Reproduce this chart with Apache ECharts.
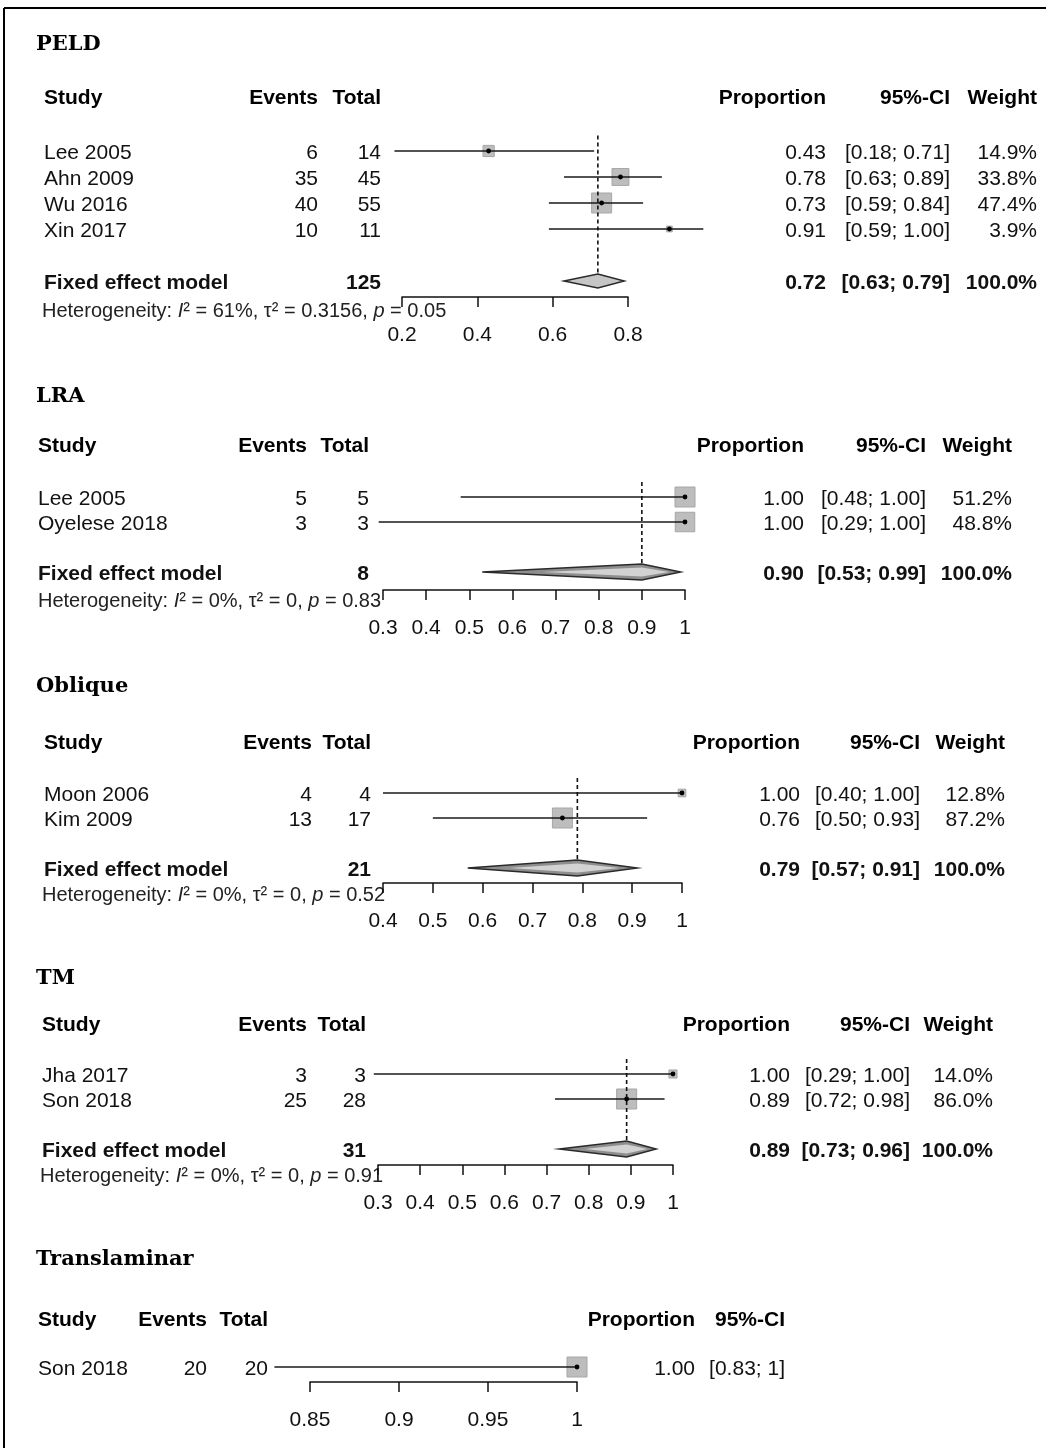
<!DOCTYPE html>
<html>
<head>
<meta charset="utf-8">
<title>Forest plots</title>
<script src="https://cdn.jsdelivr.net/npm/echarts@6/dist/echarts.min.js"></script>
<style>
  html, body { margin: 0; padding: 0; background: #fff; }
  #chart { width: 1046px; height: 1448px; }
</style>
</head>
<body>
<div id="chart"></div>
<script>
// ---- data ----
// PELD
const peldStudy = ['Lee 2005', 'Ahn 2009', 'Wu 2016', 'Xin 2017'];
const peldEvents = [6, 35, 40, 10];
const peldTotal = [14, 45, 55, 11];
const peldProp = [0.43, 0.78, 0.73, 0.91];
const peldLower = [0.18, 0.63, 0.59, 0.59];
const peldUpper = [0.71, 0.89, 0.84, 1.00];
const peldWeight = [14.9, 33.8, 47.4, 3.9];
const peldFixed = [0.72, 0.63, 0.79];
const peldTicks = [0.2, 0.4, 0.6, 0.8];

// LRA
const lraStudy = ['Lee 2005', 'Oyelese 2018'];
const lraEvents = [5, 3];
const lraTotal = [5, 3];
const lraProp = [1.00, 1.00];
const lraLower = [0.48, 0.29];
const lraUpper = [1.00, 1.00];
const lraWeight = [51.2, 48.8];
const lraFixed = [0.90, 0.53, 0.99];
const lraTicks = [0.3, 0.4, 0.5, 0.6, 0.7, 0.8, 0.9, 1];

// Oblique
const oblStudy = ['Moon 2006', 'Kim 2009'];
const oblEvents = [4, 13];
const oblTotal = [4, 17];
const oblProp = [1.00, 0.76];
const oblLower = [0.40, 0.50];
const oblUpper = [1.00, 0.93];
const oblWeight = [12.8, 87.2];
const oblFixed = [0.79, 0.57, 0.91];
const oblTicks = [0.4, 0.5, 0.6, 0.7, 0.8, 0.9, 1];

// TM
const tmStudy = ['Jha 2017', 'Son 2018'];
const tmEvents = [3, 25];
const tmTotal = [3, 28];
const tmProp = [1.00, 0.89];
const tmLower = [0.29, 0.72];
const tmUpper = [1.00, 0.98];
const tmWeight = [14.0, 86.0];
const tmFixed = [0.89, 0.73, 0.96];
const tmTicks = [0.3, 0.4, 0.5, 0.6, 0.7, 0.8, 0.9, 1];

// Translaminar
const trStudy = ['Son 2018'];
const trEvents = [20];
const trTotal = [20];
const trProp = [1.00];
const trLower = [0.83];
const trUpper = [1];
const trTicks = [0.85, 0.9, 0.95, 1];

// heterogeneity (PELD, LRA, Oblique, TM)
const hetI2 = [61, 0, 0, 0];
const hetTau2 = [0.3156, 0, 0, 0];
const hetP = [0.05, 0.83, 0.52, 0.91];

// ---- layout ----
const SANS = '"Liberation Sans", Arial, sans-serif';
const SERIF = '"DejaVu Serif", serif';
const INK = '#111';

const fix2 = v => v.toFixed(2);

const panels = [
  {
    title: 'PELD', study: peldStudy, events: peldEvents, total: peldTotal, prop: peldProp,
    lower: peldLower, upper: peldUpper, weight: peldWeight, fixed: peldFixed, ticks: peldTicks, het: 0,
    layered: false, ciFmt: fix2,
    lay: { titleY: 45, headerY: 98, row0: 151, rowH: 26, axisY: 297, xL: 402, xR: 628, hetX: 42, hetY: 311,
      col: { study: 44, events: 318, total: 381, prop: 826, ci: 950, weight: 1037 } }
  },
  {
    title: 'LRA', study: lraStudy, events: lraEvents, total: lraTotal, prop: lraProp,
    lower: lraLower, upper: lraUpper, weight: lraWeight, fixed: lraFixed, ticks: lraTicks, het: 1,
    layered: true, ciFmt: fix2,
    lay: { titleY: 397, headerY: 446, row0: 497, rowH: 25, axisY: 590, xL: 383, xR: 685, hetX: 38, hetY: 601,
      col: { study: 38, events: 307, total: 369, prop: 804, ci: 926, weight: 1012 } }
  },
  {
    title: 'Oblique', study: oblStudy, events: oblEvents, total: oblTotal, prop: oblProp,
    lower: oblLower, upper: oblUpper, weight: oblWeight, fixed: oblFixed, ticks: oblTicks, het: 2,
    layered: true, ciFmt: fix2,
    lay: { titleY: 687, headerY: 743, row0: 793, rowH: 25, axisY: 883, xL: 383, xR: 682, hetX: 42, hetY: 895,
      col: { study: 44, events: 312, total: 371, prop: 800, ci: 920, weight: 1005 } }
  },
  {
    title: 'TM', study: tmStudy, events: tmEvents, total: tmTotal, prop: tmProp,
    lower: tmLower, upper: tmUpper, weight: tmWeight, fixed: tmFixed, ticks: tmTicks, het: 3,
    layered: true, ciFmt: fix2,
    lay: { titleY: 979, headerY: 1025, row0: 1074, rowH: 25, axisY: 1165, xL: 378, xR: 673, hetX: 40, hetY: 1176,
      col: { study: 42, events: 307, total: 366, prop: 790, ci: 910, weight: 993 } }
  },
  {
    title: 'Translaminar', study: trStudy, events: trEvents, total: trTotal, prop: trProp,
    lower: trLower, upper: trUpper, weight: null, fixed: null, ticks: trTicks, het: -1,
    layered: false, ciFmt: v => (v === 1 ? '1' : v.toFixed(2)),
    lay: { titleY: 1260, headerY: 1320, row0: 1367, rowH: 25, axisY: 1382, xL: 310, xR: 577,
      col: { study: 38, events: 207, total: 268, prop: 695, ci: 785 } }
  }
];

function txt(text, x, y, align, bold) {
  return {
    type: 'text',
    style: {
      text: text, x: x, y: y + 2,
      fill: INK,
      fontSize: 21, fontFamily: SANS, fontWeight: bold ? 'bold' : 'normal',
      align: align, textAlign: align, verticalAlign: 'middle', textVerticalAlign: 'middle'
    }
  };
}

function studyRender(p) {
  const w = p.weight || [100];
  const maxW = Math.max.apply(null, w);
  const C = p.lay.col;
  return function (params, api) {
    const i = params.dataIndex;
    const row = api.value(4);
    const c = api.coord([api.value(0), row]);
    const a = api.coord([api.value(1), row]);
    const b = api.coord([api.value(2), row]);
    const s = 20 * Math.sqrt(api.value(3) / maxW);
    const y = c[1];
    const kids = [
      { type: 'rect', shape: { x: c[0] - s / 2, y: y - s / 2, width: s, height: s },
        style: { fill: '#bdbdbd', stroke: '#a6a6a6', lineWidth: 1 } },
      { type: 'line', shape: { x1: a[0], y1: y, x2: b[0], y2: y },
        style: { stroke: '#1a1a1a', lineWidth: 1.6 } },
      { type: 'circle', shape: { cx: c[0], cy: y, r: 2.4 }, style: { fill: '#000' } },
      txt(p.study[i], C.study, y, 'left'),
      txt(String(p.events[i]), C.events, y, 'right'),
      txt(String(p.total[i]), C.total, y, 'right'),
      txt(p.prop[i].toFixed(2), C.prop, y, 'right'),
      txt('[' + p.ciFmt(p.lower[i]) + '; ' + p.ciFmt(p.upper[i]) + ']', C.ci, y, 'right')
    ];
    if (p.weight) kids.push(txt(p.weight[i].toFixed(1) + '%', C.weight, y, 'right'));
    return { type: 'group', children: kids };
  };
}

function fixedRender(p) {
  const C = p.lay.col;
  const sumTotal = p.total.reduce((s, v) => s + v, 0);
  return function (params, api) {
    const row = api.value(3);
    const m = api.coord([api.value(0), row]);
    const a = api.coord([api.value(1), row]);
    const b = api.coord([api.value(2), row]);
    const top = api.coord([api.value(0), -0.6]);
    const y = m[1], h = p.layered ? 8 : 7;
    const kids = [
      { type: 'polygon', shape: { points: [[a[0], y], [m[0], y - h], [b[0], y], [m[0], y + h]] },
        style: { fill: p.layered ? '#8e8e8e' : '#c6c6c6', stroke: '#2a2a2a', lineWidth: 1.5 } }
    ];
    if (p.layered) {
      const ia = m[0] - (m[0] - a[0]) * 0.62, ib = m[0] + (b[0] - m[0]) * 0.7;
      kids.push({ type: 'polygon', shape: { points: [[ia, y], [m[0], y - 4.5], [ib, y], [m[0], y + 4.5]] },
        style: { fill: '#d2d2d2' } });
    }
    kids.push(
      { type: 'line', shape: { x1: m[0], y1: top[1], x2: m[0], y2: y - h },
        style: { stroke: INK, lineWidth: 1.6, lineDash: [4, 3] } },
      txt('Fixed effect model', C.study, y, 'left', true),
      txt(String(sumTotal), C.total, y, 'right', true),
      txt(fix2(api.value(0)), C.prop, y, 'right', true),
      txt('[' + fix2(api.value(1)) + '; ' + fix2(api.value(2)) + ']', C.ci, y, 'right', true),
      txt('100.0%', C.weight, y, 'right', true)
    );
    return { type: 'group', children: kids };
  };
}

const grids = [], xAxes = [], yAxes = [], series = [], graphics = [];

panels.forEach(function (p, k) {
  const L = p.lay;
  const t = p.ticks;
  grids.push({ left: L.xL, width: L.xR - L.xL, top: L.row0, height: L.axisY - L.row0, outerBoundsMode: 'none' });
  xAxes.push({
    gridIndex: k, type: 'value', position: 'bottom',
    min: t[0], max: t[t.length - 1], interval: Math.round((t[1] - t[0]) * 1000) / 1000,
    axisLine: { show: true, onZero: false, lineStyle: { color: INK, width: 1.5 } },
    axisTick: { show: true, length: 10, lineStyle: { color: INK, width: 1.5 } },
    axisLabel: { show: true, showMinLabel: true, showMaxLabel: true, hideOverlap: false,
      fontSize: 21, fontFamily: SANS, color: INK, margin: 28,
      formatter: v => String(Math.round(v * 1000) / 1000) },
    splitLine: { show: false }
  });
  yAxes.push({ gridIndex: k, type: 'value', inverse: true, min: 0,
    max: (L.axisY - L.row0) / L.rowH, show: false });

  series.push({
    type: 'custom', xAxisIndex: k, yAxisIndex: k, clip: false, silent: true,
    encode: { x: [0, 1, 2], y: 4 },
    renderItem: studyRender(p),
    data: p.study.map((s, i) => [p.prop[i], p.lower[i], p.upper[i], p.weight ? p.weight[i] : 100, i])
  });
  if (p.fixed) {
    series.push({
      type: 'custom', xAxisIndex: k, yAxisIndex: k, clip: false, silent: true,
      encode: { x: [0, 1, 2], y: 3 },
      renderItem: fixedRender(p),
      data: [[p.fixed[0], p.fixed[1], p.fixed[2], p.study.length + 1]]
    });
  }

  // title + header
  graphics.push({ type: 'text', x: 36, y: L.titleY,
    style: { text: p.title, fill: '#000', fontSize: 21, fontWeight: 'bold', fontFamily: SERIF,
      align: 'left', verticalAlign: 'middle', textAlign: 'left', textVerticalAlign: 'middle' } });
  const C = L.col;
  const heads = [['Study', C.study, 'left'], ['Events', C.events, 'right'], ['Total', C.total, 'right'],
    ['Proportion', C.prop, 'right'], ['95%-CI', C.ci, 'right']];
  if (p.weight) heads.push(['Weight', C.weight, 'right']);
  heads.forEach(function (h) {
    graphics.push({ type: 'text', x: h[1], y: L.headerY,
      style: { text: h[0], fill: '#000', fontSize: 21, fontWeight: 'bold', fontFamily: SANS,
        align: h[2], verticalAlign: 'middle', textAlign: h[2], textVerticalAlign: 'middle' } });
  });
  if (p.het >= 0) {
    const j = p.het;
    graphics.push({ type: 'text', x: L.hetX, y: L.hetY,
      style: {
        text: '{n|Heterogeneity: }{it|I}{n|² = ' + hetI2[j] + '%, τ² = ' + hetTau2[j] + ', }{it|p}{n| = ' + hetP[j].toFixed(2) + '}',
        rich: {
          n: { fontSize: 20, fontFamily: SANS, fill: '#222' },
          it: { fontSize: 20, fontFamily: SANS, fontStyle: 'italic', fill: '#222' }
        },
        verticalAlign: 'middle', textVerticalAlign: 'middle'
      } });
  }
});

// frame (left and top edges)
graphics.push(
  { type: 'line', shape: { x1: 4, y1: 8, x2: 4, y2: 1448 }, style: { stroke: '#000', lineWidth: 2 } },
  { type: 'line', shape: { x1: 4, y1: 8, x2: 1046, y2: 8 }, style: { stroke: '#000', lineWidth: 2 } }
);

const myChart = echarts.init(document.getElementById('chart'), null, { renderer: 'canvas' });
myChart.setOption({
  animation: false,
  backgroundColor: '#fff',
  grid: grids,
  xAxis: xAxes,
  yAxis: yAxes,
  series: series,
  graphic: { elements: graphics }
});
</script>
</body>
</html>
